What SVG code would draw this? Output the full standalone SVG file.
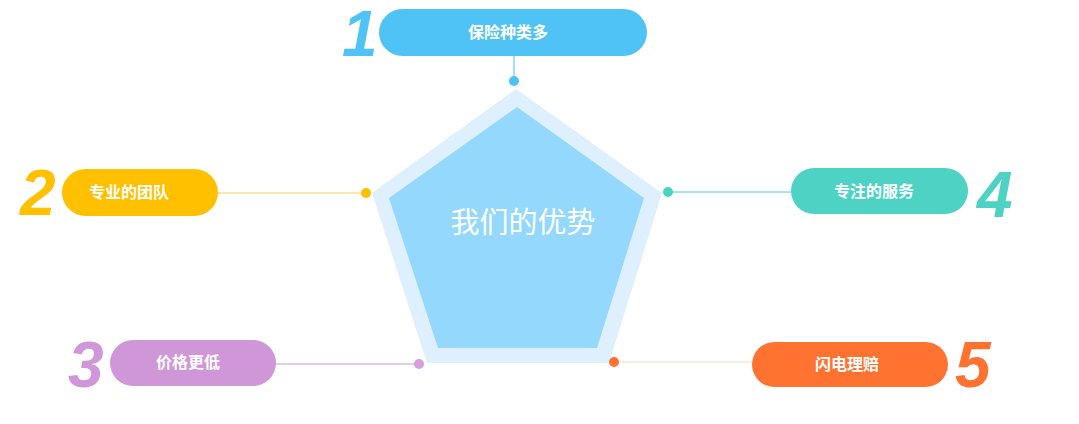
<svg xmlns="http://www.w3.org/2000/svg" width="1079" height="424" viewBox="0 0 1079 424">
<style>
.lbl{font-family:"Noto Sans CJK SC","Liberation Sans",sans-serif;font-size:16px;font-weight:bold;fill:#fff;text-anchor:middle}
.num{font-family:"Liberation Sans",Arial,sans-serif;font-size:64px;font-weight:bold;font-style:italic}
.ln{stroke-width:1;fill:none}
</style>
<rect width="1079" height="424" fill="#fff"/>
<g id="center">
<polygon points="516,89 662,193 609,363 427,363 372,193" fill="#DEF0FD"/>
<polygon points="517,107 644,198 597,348 438,348 389,198" fill="#94D9FD"/>
<text x="523" y="233" style="font-family:'Noto Sans CJK SC',serif;font-size:29px;fill:#fff;text-anchor:middle">我们的优势</text>
</g>
<g id="connectors">
<line class="ln" x1="514" y1="56" x2="514" y2="81" stroke="#4FC3F5"/>
<circle cx="514" cy="81" r="5" fill="#4FC3F5"/>
<line class="ln" x1="218" y1="193" x2="366" y2="193" stroke="#F8CC5A"/>
<circle cx="366" cy="193" r="5" fill="#FFC000"/>
<line class="ln" x1="276" y1="364" x2="419" y2="364" stroke="#CF97D8"/>
<circle cx="419" cy="364" r="5" fill="#D99CDC"/>
<line class="ln" x1="668" y1="192" x2="791" y2="192" stroke="#4DD2C4"/>
<circle cx="668" cy="192" r="5" fill="#4DD2C4"/>
<line class="ln" x1="614" y1="362" x2="752" y2="362" stroke="#FFD6C2"/>
<circle cx="614" cy="362" r="5" fill="#FF7230"/>
</g>
<g id="node1">
<rect x="379" y="9" width="268" height="47" rx="23.5" fill="#4FC3F5"/>
<text class="lbl" x="508" y="38">保险种类多</text>
<text class="num" x="342" y="56" fill="#4FC3F5">1</text>
</g>
<g id="node2">
<rect x="62" y="169" width="156" height="47" rx="23.5" fill="#FFC000"/>
<text class="lbl" x="129" y="198">专业的团队</text>
<text class="num" x="20" y="215" fill="#FFC000">2</text>
</g>
<g id="node3">
<rect x="110" y="340" width="166" height="46" rx="23" fill="#CF97D8"/>
<text class="lbl" x="188" y="368">价格更低</text>
<text class="num" x="68" y="387" fill="#CF97D8">3</text>
</g>
<g id="node4">
<rect x="791" y="168" width="177" height="46" rx="23" fill="#4DD2C4"/>
<text class="lbl" x="874" y="197">专注的服务</text>
<text class="num" x="977" y="217" fill="#4DD2C4">4</text>
</g>
<g id="node5">
<rect x="752" y="342" width="196" height="45" rx="22.5" fill="#FF7230"/>
<text class="lbl" x="847" y="370">闪电理赔</text>
<text class="num" x="955" y="387" fill="#FF7230">5</text>
</g>
</svg>
